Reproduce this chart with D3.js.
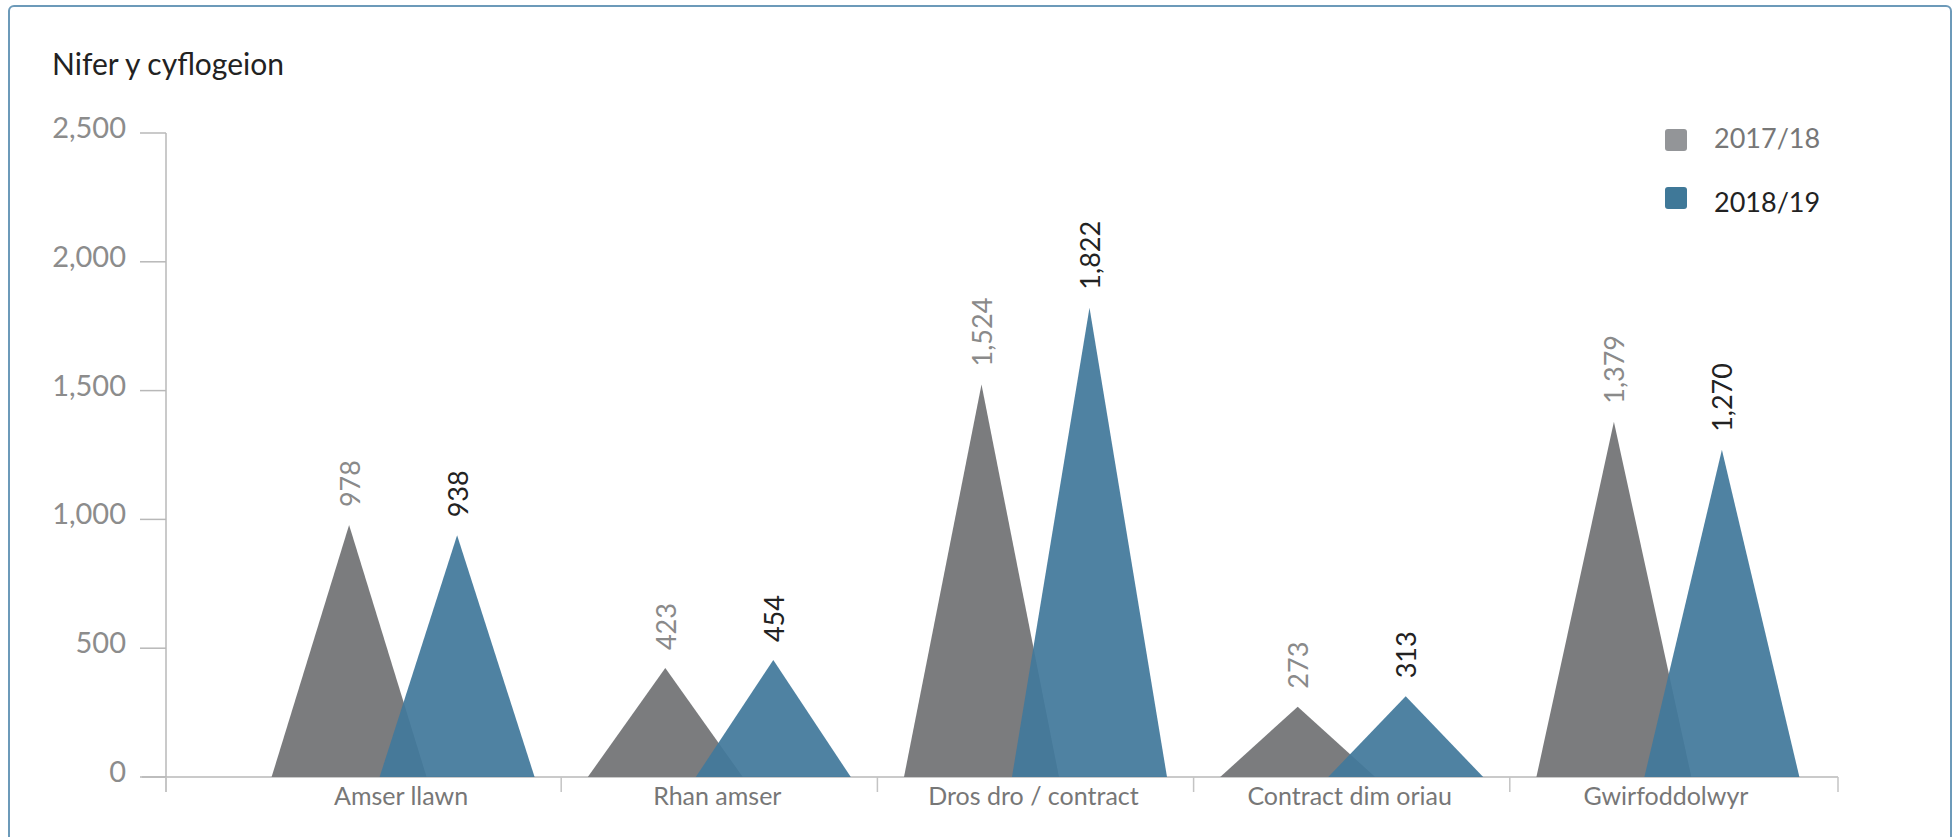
<!DOCTYPE html>
<html>
<head>
<meta charset="utf-8">
<script src="https://cdn.jsdelivr.net/npm/d3@7"></script>
<style>
  html, body { margin: 0; padding: 0; background: #fff; }
  svg { display: block; font-family: Lato, "Open Sans", sans-serif; }
</style>
</head>
<body>
<div id="chart"></div>
<script>
// chart size
const width = 1959;
const height = 837;

// data
const categories = ["Amser llawn", "Rhan amser", "Dros dro / contract", "Contract dim oriau", "Gwirfoddolwyr"];
const seriesNames = ["2017/18", "2018/19"];
const values2017 = [978, 423, 1524, 273, 1379];
const values2018 = [938, 454, 1822, 313, 1270];
const yTicks = [0, 500, 1000, 1500, 2000, 2500];

const colors = ["#7b7c7e", "#42799b"];
const legendColors = ["#939598", "#3f7898"];
const labelColors = ["#8a8a8a", "#222"];

const svg = d3.select("#chart").append("svg")
    .attr("width", width)
    .attr("height", height);

// outer frame
svg.append("rect")
    .attr("x", 9).attr("y", 6)
    .attr("width", 1942).attr("height", 850)
    .attr("rx", 5)
    .attr("fill", "none")
    .attr("stroke", "#6c9ab9")
    .attr("stroke-width", 2);

// title
svg.append("text")
    .attr("x", 52).attr("y", 75)
    .attr("font-size", 30)
    .attr("fill", "#222")
    .text("Nifer y cyflogeion");

// scales
const axisLeft = 166, axisRight = 1838;
const x = d3.scaleBand()
    .domain(categories)
    .range([245, 1826]);

const xs = d3.scaleBand()
    .domain(seriesNames)
    .range([-108, 108]);

const y = d3.scaleLinear()
    .domain([0, 2500])
    .range([777, 133]);

// y axis
const yAxis = svg.append("g");
yAxis.append("line")
    .attr("x1", axisLeft).attr("x2", axisLeft)
    .attr("y1", y(2500)).attr("y2", 792)
    .attr("stroke", "#b8b8b8").attr("stroke-width", 1.5);
yAxis.selectAll(".ytick")
    .data(yTicks)
    .enter().append("line")
    .attr("x1", 140).attr("x2", axisLeft)
    .attr("y1", d => y(d)).attr("y2", d => y(d))
    .attr("stroke", "#b8b8b8").attr("stroke-width", 1.5);
yAxis.selectAll(".ylabel")
    .data(yTicks)
    .enter().append("text")
    .attr("x", 126)
    .attr("y", d => y(d) + 5)
    .attr("text-anchor", "end")
    .attr("font-size", 29)
    .attr("fill", "#8c8c8c")
    .text(d => d3.format(",")(d));

// x axis
const xAxis = svg.append("g");
xAxis.append("line")
    .attr("x1", 142).attr("x2", axisRight)
    .attr("y1", y(0)).attr("y2", y(0))
    .attr("stroke", "#b8b8b8").attr("stroke-width", 1.5);
const xTickPos = [axisLeft].concat(categories.slice(1).map(c => x(c)), [axisRight]);
xAxis.selectAll(".xtick")
    .data(xTickPos)
    .enter().append("line")
    .attr("x1", d => d).attr("x2", d => d)
    .attr("y1", y(0)).attr("y2", 792)
    .attr("stroke", "#c4c4c4").attr("stroke-width", 1.5);
xAxis.selectAll(".xlabel")
    .data(categories)
    .enter().append("text")
    .attr("x", d => x(d) + x.bandwidth() / 2 - 2)
    .attr("y", 805)
    .attr("text-anchor", "middle")
    .attr("font-size", 25)
    .attr("fill", "#777")
    .text(d => d);

// triangles
const allSeries = [values2017, values2018];
const halfW = 77.5;

allSeries.forEach((vals, si) => {
    const g = svg.append("g");
    const rows = categories.map((c, i) => ({ cat: c, value: vals[i] }));
    g.selectAll("path")
        .data(rows)
        .enter().append("path")
        .attr("d", d => {
            const cx = x(d.cat) + x.bandwidth() / 2 + xs(seriesNames[si]) + xs.bandwidth() / 2;
            return `M${cx - halfW},${y(0)}L${cx},${y(d.value)}L${cx + halfW},${y(0)}Z`;
        })
        .attr("fill", colors[si])
        .attr("fill-opacity", si === 1 ? 0.93 : 1);

    g.selectAll("text")
        .data(rows)
        .enter().append("text")
        .attr("transform", d => {
            const cx = x(d.cat) + x.bandwidth() / 2 + xs(seriesNames[si]) + xs.bandwidth() / 2;
            return `translate(${cx},${y(d.value) - 18}) rotate(-90)`;
        })
        .attr("dominant-baseline", "central")
        .attr("font-size", 27)
        .attr("fill", labelColors[si])
        .text(d => d3.format(",")(d.value));
});

// legend
const legend = svg.append("g");
seriesNames.forEach((name, i) => {
    legend.append("rect")
        .attr("x", 1665).attr("y", 129 + i * 58)
        .attr("width", 22).attr("height", 22)
        .attr("rx", 3)
        .attr("fill", legendColors[i]);
    legend.append("text")
        .attr("x", 1714).attr("y", 148 + i * 64)
        .attr("font-size", 27)
        .attr("fill", i === 0 ? "#777" : "#222")
        .text(name);
});
</script>
</body>
</html>
